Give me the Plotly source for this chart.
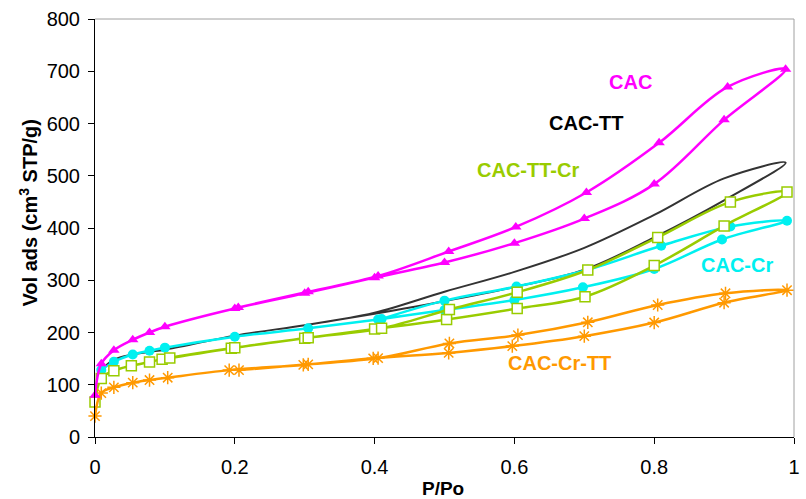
import plotly.graph_objects as go

# N2 isotherms: adsorption branch (rising P/Po) followed by desorption branch (falling P/Po)
cac_p = [0.0, 0.009, 0.027, 0.054, 0.078, 0.1, 0.2, 0.3, 0.4, 0.5, 0.6, 0.7, 0.8, 0.9, 0.988,
         0.905, 0.807, 0.703, 0.602, 0.506, 0.405, 0.305, 0.205]
cac_v = [80, 140, 166, 186, 200, 211, 246, 275, 305, 334, 371, 418, 484, 607, 704,
         670, 563, 468, 402, 355, 308, 278, 248]

cac_tt_p = [0.009, 0.027, 0.054, 0.078, 0.1, 0.2, 0.3, 0.4, 0.5, 0.6, 0.7, 0.8, 0.9, 0.988,
            0.9, 0.8, 0.7, 0.6, 0.5, 0.4, 0.3]
cac_tt_v = [128, 148, 158, 163, 167, 194, 214, 236, 260, 287, 320, 382, 453, 525,
            495, 425, 362, 316, 278, 238, 214]

cac_tt_cr_p = [0.0, 0.009, 0.027, 0.052, 0.078, 0.096, 0.195, 0.3, 0.4, 0.503, 0.604, 0.701, 0.8, 0.9, 0.99,
               0.909, 0.805, 0.705, 0.604, 0.507, 0.41, 0.305, 0.2, 0.107]
cac_tt_cr_v = [67, 112, 127, 136.5, 143.5, 149, 170, 189, 206.5, 225, 246, 268.5, 328, 404, 469,
               450, 382, 319.6, 277, 244, 208, 190, 171, 151]

cac_cr_p = [0.009, 0.027, 0.054, 0.078, 0.1, 0.2, 0.305, 0.405, 0.5, 0.6, 0.698, 0.8, 0.897, 0.99,
            0.909, 0.81, 0.705, 0.603, 0.5, 0.41]
cac_cr_v = [128, 144, 158, 165, 171, 192, 208, 225, 243, 262, 286.5, 321.5, 378, 414,
            403, 366, 320, 288, 261, 226]

cac_cr_tt_p = [0.0, 0.009, 0.027, 0.054, 0.078, 0.104, 0.192, 0.298, 0.398, 0.506, 0.597, 0.7, 0.8, 0.9, 0.99,
               0.902, 0.805, 0.705, 0.605, 0.507, 0.405, 0.305, 0.206]
cac_cr_tt_v = [40, 84, 95, 104, 109, 113.5, 128, 138, 150.5, 161, 174, 193, 219, 257, 281,
               275, 252.6, 219.5, 195, 179, 151, 139, 128]

x_ticks = [0, 0.2, 0.4, 0.6, 0.8, 1]
y_ticks = [0, 100, 200, 300, 400, 500, 600, 700, 800]

FONT = "Liberation Sans, Arial, sans-serif"
MAGENTA = "#FF00FF"
DARK = "#333333"
CYAN = "#00F0F0"
GREEN = "#99CC00"
ORANGE = "#FF9900"

fig = go.Figure()

fig.add_trace(go.Scatter(
    x=cac_tt_p, y=cac_tt_v, mode="lines", name="CAC-TT",
    line=dict(color=DARK, width=2, shape="spline", smoothing=1),
    cliponaxis=False))

fig.add_trace(go.Scatter(
    x=cac_cr_p, y=cac_cr_v, mode="lines+markers", name="CAC-Cr",
    line=dict(color=CYAN, width=2.5, shape="spline", smoothing=1),
    marker=dict(symbol="circle", size=10, color=CYAN),
    cliponaxis=False))

fig.add_trace(go.Scatter(
    x=cac_tt_cr_p, y=cac_tt_cr_v, mode="lines+markers", name="CAC-TT-Cr",
    line=dict(color=GREEN, width=2.5, shape="spline", smoothing=1),
    marker=dict(symbol="square", size=10, color="white", line=dict(color=GREEN, width=1.5)),
    cliponaxis=False))

fig.add_trace(go.Scatter(
    x=cac_cr_tt_p, y=cac_cr_tt_v, mode="lines+markers", name="CAC-Cr-TT",
    line=dict(color=ORANGE, width=2.5, shape="spline", smoothing=1),
    marker=dict(symbol="asterisk-open", size=11, color=ORANGE, line=dict(color=ORANGE, width=1.5)),
    cliponaxis=False))

fig.add_trace(go.Scatter(
    x=cac_p, y=cac_v, mode="lines+markers", name="CAC",
    line=dict(color=MAGENTA, width=2.5, shape="spline", smoothing=1),
    marker=dict(symbol="triangle-up", size=10, color=MAGENTA),
    cliponaxis=False))

# Series labels placed beside their curves
labels = [
    ("CAC", 0.766, 679, MAGENTA),
    ("CAC-TT", 0.702, 601, "#000000"),
    ("CAC-TT-Cr", 0.619, 511, GREEN),
    ("CAC-Cr", 0.919, 329, CYAN),
    ("CAC-Cr-TT", 0.664, 142, ORANGE),
]
for text, lx, ly, col in labels:
    fig.add_annotation(x=lx, y=ly, xref="x", yref="y", text=f"<b>{text}</b>",
                       showarrow=False, xanchor="center", yanchor="middle",
                       font=dict(family=FONT, size=20, color=col))

# Axis titles
fig.add_annotation(x=-0.095, y=0.536, xref="paper", yref="paper",
                   text="<b>Vol ads (cm<sup>3</sup> STP/g)</b>", textangle=-90,
                   showarrow=False, xanchor="center", yanchor="middle",
                   font=dict(family=FONT, size=20, color="#000000"))
fig.add_annotation(x=0.498, y=-0.124, xref="paper", yref="paper",
                   text="<b>P/Po</b>", showarrow=False, xanchor="center", yanchor="middle",
                   font=dict(family=FONT, size=19, color="#000000"))

# Light frame on the top and right of the plot area
fig.add_shape(type="line", xref="paper", yref="paper", x0=0, y0=1, x1=1, y1=1,
              line=dict(color="#A0A0A0", width=1))
fig.add_shape(type="line", xref="paper", yref="paper", x0=1, y0=0, x1=1, y1=1,
              line=dict(color="#A0A0A0", width=1))

fig.update_layout(
    width=806, height=499,
    margin=dict(l=95, r=6, t=19, b=62),
    paper_bgcolor="white", plot_bgcolor="white",
    showlegend=False,
    font=dict(family=FONT, color="#000000"),
    xaxis=dict(range=[0, 1], tickvals=x_ticks, ticktext=[f"{t:g}" for t in x_ticks],
               showgrid=False, zeroline=False, showline=True, linecolor="#000000", linewidth=1,
               ticks="outside", ticklen=6, tickcolor="#000000", ticklabelstandoff=6,
               tickfont=dict(family=FONT, size=20, color="#000000")),
    yaxis=dict(range=[0, 800], tickvals=y_ticks, ticktext=[str(t) for t in y_ticks],
               showgrid=False, zeroline=False, showline=True, linecolor="#000000", linewidth=1,
               ticks="outside", ticklen=6, tickcolor="#000000", ticklabelstandoff=4,
               tickfont=dict(family=FONT, size=20, color="#000000")),
)

fig.write_html("out.html")
